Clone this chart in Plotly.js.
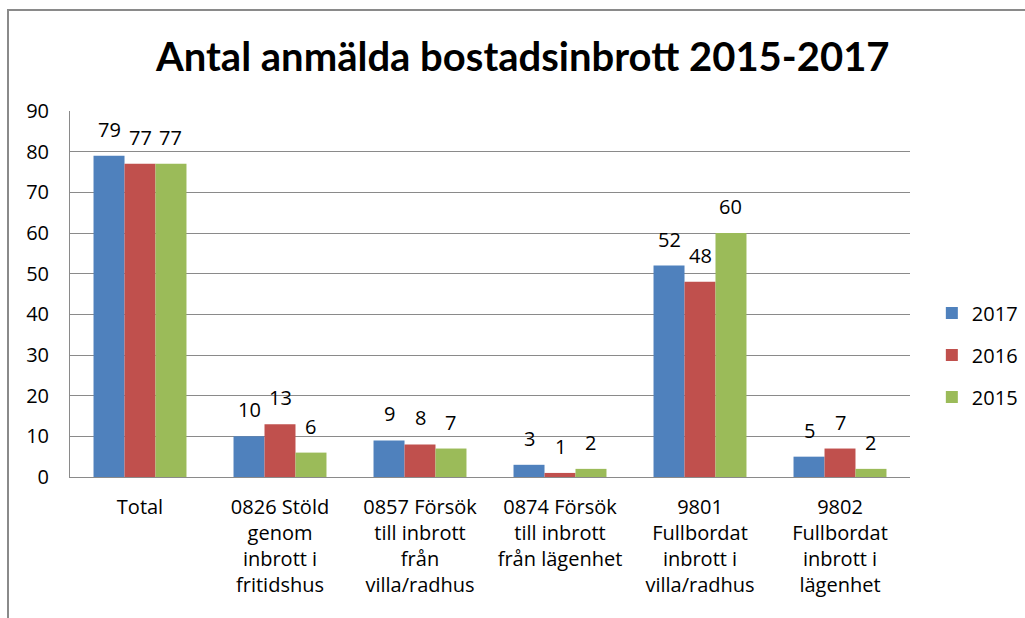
<!DOCTYPE html>
<html>
<head>
<meta charset="utf-8">
<script src="https://cdn.plot.ly/plotly-3.0.1.min.js"></script>
<style>
  html, body { margin: 0; padding: 0; background: #fff; overflow: hidden; }
  #chart { width: 1025px; height: 618px; position: absolute; left: 0; top: 0; }
  #frame { position: absolute; left: 7px; top: 9px; width: 1100px; height: 700px;
           border: 2px solid #8a8a8a; pointer-events: none; }
</style>
</head>
<body>
<div id="chart"></div>
<div id="frame"></div>
<script>
const categories = [
  "Total",
  "0826 Stöld<br>genom<br>inbrott i<br>fritidshus",
  "0857 Försök<br>till inbrott<br>från<br>villa/radhus",
  "0874 Försök<br>till inbrott<br>från lägenhet",
  "9801<br>Fullbordat<br>inbrott i<br>villa/radhus",
  "9802<br>Fullbordat<br>inbrott i<br>lägenhet"
];
const seriesNames = ["2017", "2016", "2015"];
const values2017 = [79, 10, 9, 3, 52, 5];
const values2016 = [77, 13, 8, 1, 48, 7];
const values2015 = [77, 6, 7, 2, 60, 2];
const colors = ["#4F81BD", "#C0504D", "#9BBB59"];
const allValues = [values2017, values2016, values2015];

const FONT = "'Open Sans', sans-serif";
const TITLE_FONT = "Lato, 'Open Sans', sans-serif";

const W = 1025, H = 618;
const margin = { l: 70, r: 115, t: 111, b: 141, autoexpand: false };
const bargap = 0.336;
const plotW = W - margin.l - margin.r;
const barPx = plotW / categories.length * (1 - bargap) / allValues.length;

const traces = allValues.map((vals, i) => ({
  type: "bar",
  name: seriesNames[i],
  x: categories,
  y: vals,
  marker: { color: colors[i] },
  legendgroup: "g" + i,
  hoverinfo: "x+y+name"
}));

const annotations = [];
allValues.forEach((vals, i) => {
  vals.forEach((v, j) => {
    annotations.push({
      x: categories[j], y: v, xref: "x", yref: "y",
      text: String(v), showarrow: false,
      xanchor: "center", yanchor: "bottom",
      xshift: (i - 1) * barPx, yshift: 11,
      font: { family: FONT, size: 20, color: "#000" }
    });
  });
});

const layout = {
  width: W,
  height: H,
  paper_bgcolor: "#fff",
  plot_bgcolor: "#fff",
  margin: margin,
  title: {
    text: "<b>Antal anmälda bostadsinbrott 2015-2017</b>",
    font: { family: TITLE_FONT, size: 40, color: "#000" },
    x: 0.51, xanchor: "center",
    y: 0.908, yanchor: "middle", yref: "container"
  },
  barmode: "group",
  bargap: bargap,
  bargroupgap: 0,
  xaxis: {
    type: "category",
    showline: true, linecolor: "#8a8a8a", linewidth: 1,
    ticks: "outside", ticklen: 12, tickcolor: "rgba(0,0,0,0)",
    tickfont: { family: FONT, size: 20, color: "#000" },
    tickangle: 0,
    showgrid: false
  },
  yaxis: {
    range: [0, 90], dtick: 10, tick0: 0,
    showline: true, linecolor: "#8a8a8a", linewidth: 1,
    gridcolor: "#8a8a8a", gridwidth: 1,
    zeroline: false,
    ticks: "outside", ticklen: 16, tickcolor: "rgba(0,0,0,0)",
    tickfont: { family: FONT, size: 20, color: "#000" }
  },
  legend: {
    x: 1.026, xanchor: "left",
    y: 0.333, yanchor: "middle",
    font: { family: FONT, size: 20, color: "#000" },
    tracegroupgap: 13,
    itemwidth: 30,
    bgcolor: "rgba(0,0,0,0)"
  },
  annotations: annotations,
  showlegend: true
};

Plotly.newPlot("chart", traces, layout, { displayModeBar: false, staticPlot: true });
</script>
</body>
</html>
